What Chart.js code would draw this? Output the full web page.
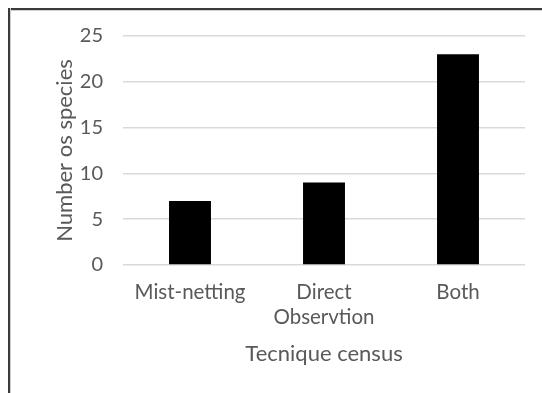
<!DOCTYPE html>
<html>
<head>
<meta charset="utf-8">
<script src="https://cdn.jsdelivr.net/npm/chart.js@4"></script>
<style>
  html, body { margin: 0; padding: 0; background: #fff; width: 542px; height: 393px; overflow: hidden; }
  .edge { position: absolute; background: #3a3a3a; }
  #edgeTop { left: 8px; top: 8px; width: 534px; height: 2px; box-shadow: 0 1px 0 #d0d0d0; }
  #edgeLeft { left: 8px; top: 8px; width: 2px; height: 385px; box-shadow: 1px 0 0 #d0d0d0; }
  #wrap { position: absolute; left: 10px; top: 10px; width: 532px; height: 383px; }
</style>
</head>
<body>
<div class="edge" id="edgeTop"></div>
<div class="edge" id="edgeLeft"></div>
<div id="wrap"><canvas id="c" width="532" height="383"></canvas></div>
<script>
const categories = ['Mist-netting', ['Direct', 'Observtion'], 'Both'];
const speciesCounts = [7, 9, 23];
const yTicks = { min: 0, max: 25, step: 5 };
const xTitle = 'Tecnique census';
const yTitle = 'Number os species';

const textColor = '#595959';
const fontFamily = "Lato, 'Open Sans', sans-serif";

new Chart(document.getElementById('c'), {
  type: 'bar',
  data: {
    labels: categories,
    datasets: [{
      data: speciesCounts,
      backgroundColor: '#000000',
      borderWidth: 0,
      categoryPercentage: 1,
      barPercentage: 0.313
    }]
  },
  options: {
    responsive: false,
    animation: false,
    layout: { padding: { left: 42, right: 17, top: 26, bottom: 0 } },
    plugins: { legend: { display: false }, tooltip: { enabled: false } },
    scales: {
      x: {
        grid: { display: false, drawTicks: false },
        border: { display: false },
        ticks: {
          color: textColor, padding: 15,
          font: { family: fontFamily, size: 20.5, lineHeight: '25px' },
          maxRotation: 0, autoSkip: false
        },
        title: {
          display: true, text: xTitle, color: textColor,
          font: { family: fontFamily, size: 22 },
          padding: { top: 0, bottom: 26 }
        },
        afterFit: s => { s.height = 383 - 255; s.paddingLeft = 0; s.paddingRight = 0; }
      },
      y: {
        min: yTicks.min, max: yTicks.max,
        grid: { color: '#d9d9d9', lineWidth: 1.5, drawTicks: false },
        border: { display: false },
        ticks: {
          stepSize: yTicks.step, color: textColor, padding: 20,
          font: { family: fontFamily, size: 20 }
        },
        title: {
          display: true, text: yTitle, color: textColor,
          font: { family: fontFamily, size: 22 },
          padding: { top: 0, bottom: 0 }
        },
        afterFit: s => { s.width = 113 - 42; s.paddingTop = 0; s.paddingBottom = 0; }
      }
    }
  }
});
</script>
</body>
</html>
